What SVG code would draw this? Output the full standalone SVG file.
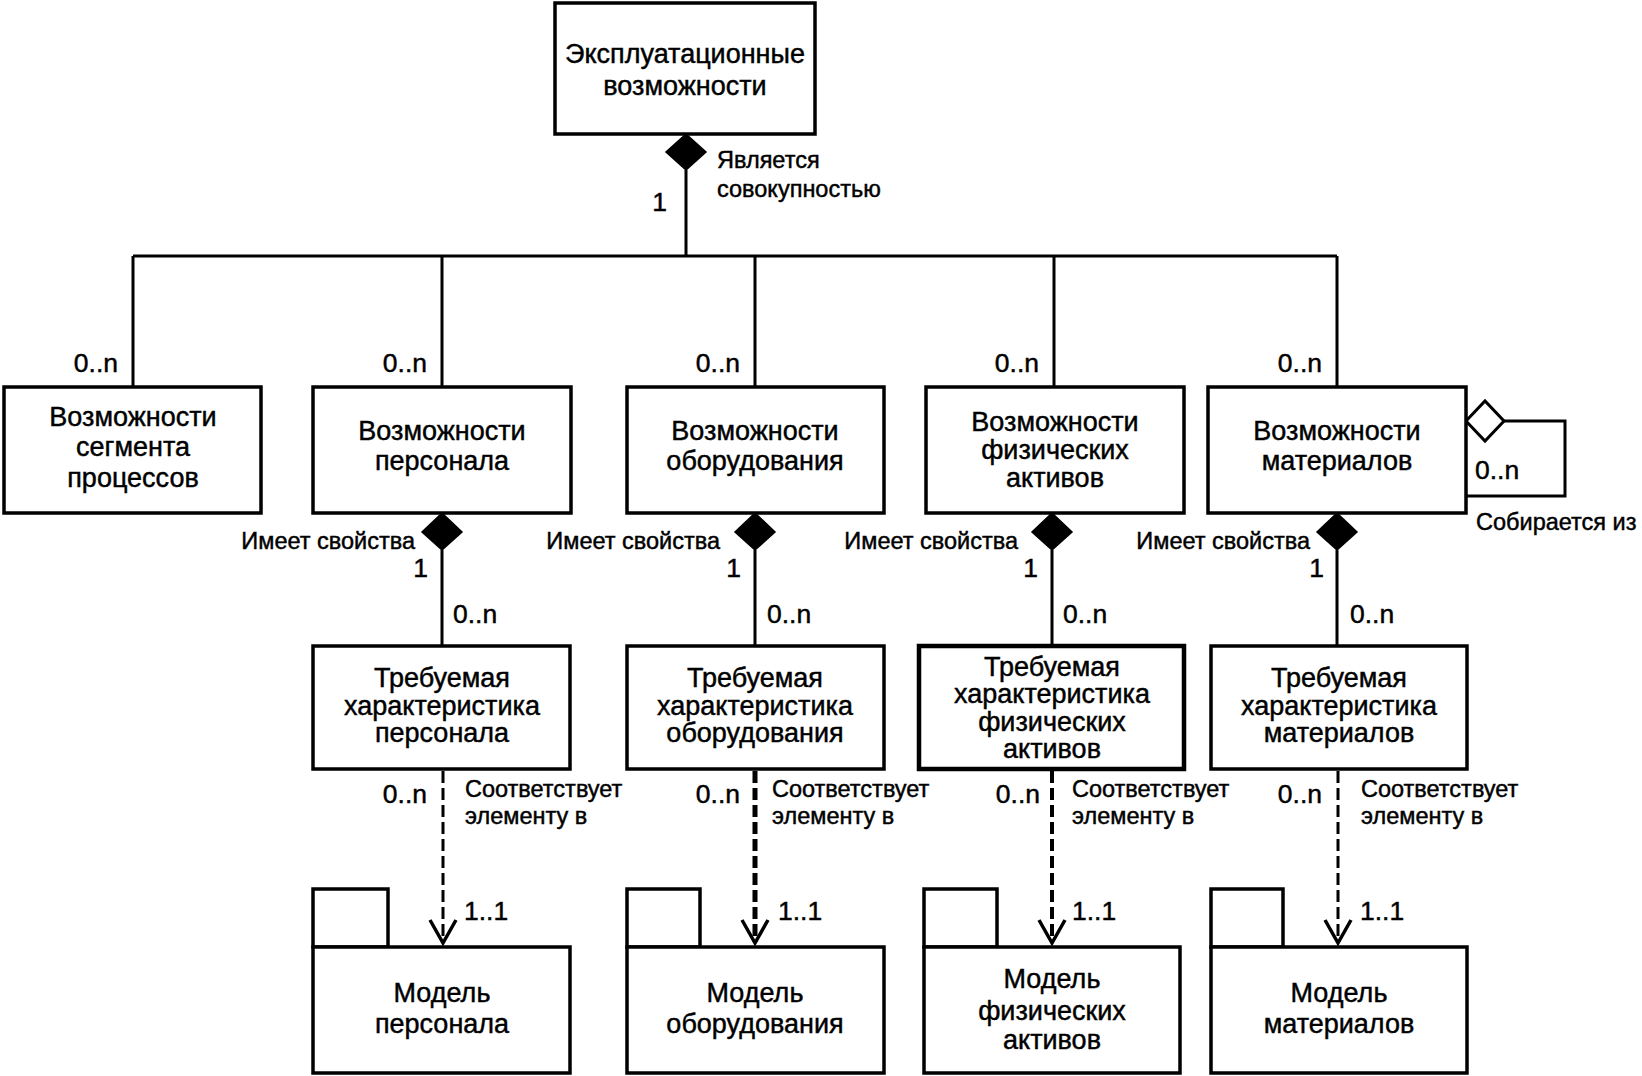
<svg xmlns="http://www.w3.org/2000/svg" width="1642" height="1076" viewBox="0 0 1642 1076">
<style>
.box{fill:#fff;stroke:#000;stroke-width:3.5}
.ln{fill:none;stroke:#000;stroke-width:3}
.dash{fill:none;stroke:#000;stroke-width:3;stroke-dasharray:12 5}
.arr{fill:none;stroke:#000;stroke-width:3.5}
.dia{fill:#000;stroke:#000;stroke-width:1.5}
.hdia{fill:#fff;stroke:#000;stroke-width:3}
text{font-family:"Liberation Sans",Arial,sans-serif;fill:#000;stroke:#000;stroke-width:0.45}
.n{font-size:27px;text-anchor:middle}
.m{font-size:26.5px}
.r{font-size:23.5px}
.e{text-anchor:end}
</style>
<rect width="1642" height="1076" fill="#fff"/>
<g id="connectors">
  <path class="ln" d="M686,170 V256 M133,256 H1337 M133,256 V387 M442,256 V387 M755,256 V387 M1054,256 V387 M1337,256 V387"/>
  <polygon class="dia" points="686,134 706,152 686,170 666,152"/>
  <text class="r" x="717" y="168">Является</text>
  <text class="r" x="717" y="197">совокупностью</text>
  <text class="m e" x="667" y="211">1</text>
  <text class="m e" x="118" y="372">0..n</text>
  <text class="m e" x="427" y="372">0..n</text>
  <text class="m e" x="740" y="372">0..n</text>
  <text class="m e" x="1039" y="372">0..n</text>
  <text class="m e" x="1322" y="372">0..n</text>

  <path class="ln" d="M442,550 V646 M755,550 V646 M1052,550 V646 M1337,550 V646"/>
  <polygon class="dia" points="442,513 462,532 442,550 422,532"/>
  <polygon class="dia" points="755,513 775,532 755,550 735,532"/>
  <polygon class="dia" points="1052,513 1072,532 1052,550 1032,532"/>
  <polygon class="dia" points="1337,513 1357,532 1337,550 1317,532"/>
  <text class="r e" x="415" y="549">Имеет свойства</text>
  <text class="r e" x="720" y="549">Имеет свойства</text>
  <text class="r e" x="1018" y="549">Имеет свойства</text>
  <text class="r e" x="1310" y="549">Имеет свойства</text>
  <text class="m e" x="428" y="577">1</text>
  <text class="m e" x="741" y="577">1</text>
  <text class="m e" x="1038" y="577">1</text>
  <text class="m e" x="1324" y="577">1</text>
  <text class="m" x="453" y="623">0..n</text>
  <text class="m" x="767" y="623">0..n</text>
  <text class="m" x="1063" y="623">0..n</text>
  <text class="m" x="1350" y="623">0..n</text>

  <polygon class="hdia" points="1466,421 1485,401 1504,421 1485,441"/>
  <path class="ln" d="M1504,421 H1565 V496 H1466"/>
  <text class="m" x="1475" y="479">0..n</text>
  <text class="r" x="1476" y="530">Собирается из</text>

  <path class="dash" d="M443,771 V942"/>
  <path class="dash" d="M755,771 V942" style="stroke-width:5"/>
  <path class="dash" d="M1052,771 V942" style="stroke-width:4"/>
  <path class="dash" d="M1338,771 V942"/>
  <polyline class="arr" points="430,920 443,943 456,920"/>
  <polyline class="arr" points="742,920 755,943 768,920"/>
  <polyline class="arr" points="1039,920 1052,943 1065,920"/>
  <polyline class="arr" points="1325,920 1338,943 1351,920"/>
  <text class="m e" x="427" y="803">0..n</text>
  <text class="m e" x="740" y="803">0..n</text>
  <text class="m e" x="1040" y="803">0..n</text>
  <text class="m e" x="1322" y="803">0..n</text>
  <text class="r" x="465" y="797">Соответствует</text>
  <text class="r" x="465" y="824">элементу в</text>
  <text class="r" x="772" y="797">Соответствует</text>
  <text class="r" x="772" y="824">элементу в</text>
  <text class="r" x="1072" y="797">Соответствует</text>
  <text class="r" x="1072" y="824">элементу в</text>
  <text class="r" x="1361" y="797">Соответствует</text>
  <text class="r" x="1361" y="824">элементу в</text>
  <text class="m" x="464" y="920">1..1</text>
  <text class="m" x="778" y="920">1..1</text>
  <text class="m" x="1072" y="920">1..1</text>
  <text class="m" x="1360" y="920">1..1</text>
</g>

<g id="operational">
  <rect class="box" x="555" y="3" width="260" height="131"/>
  <text class="n" x="685" y="63">Эксплуатационные</text>
  <text class="n" x="685" y="95">возможности</text>
</g>

<g id="process-segment">
  <rect class="box" x="4" y="387" width="257" height="126"/>
  <text class="n" x="133" y="426">Возможности</text>
  <text class="n" x="133" y="456">сегмента</text>
  <text class="n" x="133" y="487">процессов</text>
</g>
<g id="personnel">
  <rect class="box" x="313" y="387" width="258" height="126"/>
  <text class="n" x="442" y="440">Возможности</text>
  <text class="n" x="442" y="470">персонала</text>
</g>
<g id="equipment">
  <rect class="box" x="627" y="387" width="257" height="126"/>
  <text class="n" x="755" y="440">Возможности</text>
  <text class="n" x="755" y="470">оборудования</text>
</g>
<g id="physical">
  <rect class="box" x="926" y="387" width="258" height="126"/>
  <text class="n" x="1055" y="431">Возможности</text>
  <text class="n" x="1055" y="459">физических</text>
  <text class="n" x="1055" y="487">активов</text>
</g>
<g id="material">
  <rect class="box" x="1208" y="387" width="258" height="126"/>
  <text class="n" x="1337" y="440">Возможности</text>
  <text class="n" x="1337" y="470">материалов</text>
</g>

<g id="req-personnel">
  <rect class="box" x="313" y="646" width="257" height="123"/>
  <text class="n" x="442" y="687">Требуемая</text>
  <text class="n" x="442" y="715">характеристика</text>
  <text class="n" x="442" y="742">персонала</text>
</g>
<g id="req-equipment">
  <rect class="box" x="627" y="646" width="257" height="123"/>
  <text class="n" x="755" y="687">Требуемая</text>
  <text class="n" x="755" y="715">характеристика</text>
  <text class="n" x="755" y="742">оборудования</text>
</g>
<g id="req-physical">
  <rect class="box" x="919" y="646" width="265" height="123" style="stroke-width:4.5"/>
  <text class="n" x="1052" y="676">Требуемая</text>
  <text class="n" x="1052" y="703">характеристика</text>
  <text class="n" x="1052" y="731">физических</text>
  <text class="n" x="1052" y="758">активов</text>
</g>
<g id="req-material">
  <rect class="box" x="1211" y="646" width="256" height="123"/>
  <text class="n" x="1339" y="687">Требуемая</text>
  <text class="n" x="1339" y="715">характеристика</text>
  <text class="n" x="1339" y="742">материалов</text>
</g>

<g id="model-personnel">
  <rect class="box" x="313" y="889" width="75" height="58"/>
  <rect class="box" x="313" y="947" width="257" height="126"/>
  <text class="n" x="442" y="1002">Модель</text>
  <text class="n" x="442" y="1033">персонала</text>
</g>
<g id="model-equipment">
  <rect class="box" x="627" y="889" width="73" height="58"/>
  <rect class="box" x="627" y="947" width="257" height="126"/>
  <text class="n" x="755" y="1002">Модель</text>
  <text class="n" x="755" y="1033">оборудования</text>
</g>
<g id="model-physical">
  <rect class="box" x="924" y="889" width="73" height="58"/>
  <rect class="box" x="924" y="947" width="256" height="126"/>
  <text class="n" x="1052" y="988">Модель</text>
  <text class="n" x="1052" y="1020">физических</text>
  <text class="n" x="1052" y="1049">активов</text>
</g>
<g id="model-material">
  <rect class="box" x="1211" y="889" width="72" height="58"/>
  <rect class="box" x="1211" y="947" width="256" height="126"/>
  <text class="n" x="1339" y="1002">Модель</text>
  <text class="n" x="1339" y="1033">материалов</text>
</g>
</svg>
